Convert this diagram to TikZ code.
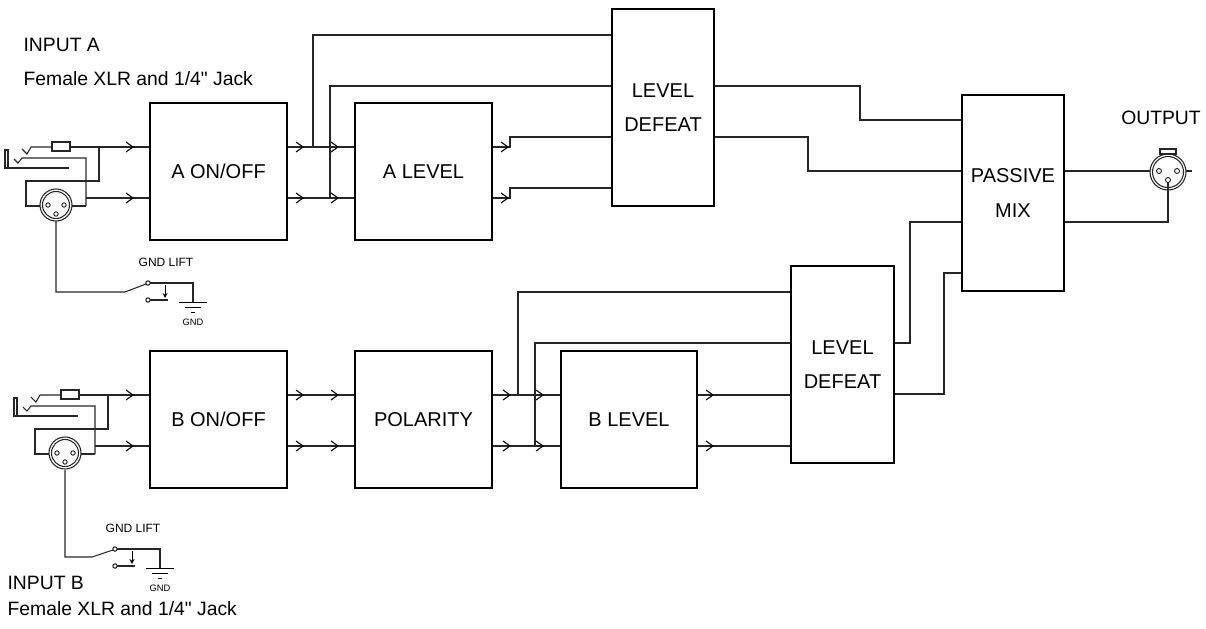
\documentclass[tikz,border=0pt]{standalone}
\usepackage{fontspec}
\setmainfont{Liberation Sans}
\begin{document}
\begin{tikzpicture}[x=0.75pt,y=-0.75pt,line width=0.9pt,
  box/.style={draw,font=\fontsize{15}{18}\selectfont,align=center,inner sep=0pt},
  lbl/.style={font=\fontsize{14.5}{17}\selectfont,anchor=west,inner sep=0pt},
  small/.style={font=\fontsize{9}{11}\selectfont,inner sep=0pt},
  wire/.style={line width=0.8pt,color=black!85},
  chev/.pic={\draw[line width=0.8pt] (-4,-5)--(3,0)--(-4,5);}]
\useasboundingbox (0,0) rectangle (1206,628);
% boxes
\node[box,minimum width=102.75pt,minimum height=102.75pt] (aon) at (218.5,171.5) {A ON/OFF};
\node[box,minimum width=102.75pt,minimum height=102.75pt] (alev) at (423.5,171.5) {A LEVEL};
\node[box,minimum width=76.5pt,minimum height=147.75pt] (lda) at (663,107.5) {LEVEL\\[8pt]DEFEAT};
\node[box,minimum width=76.5pt,minimum height=147pt] (mix) at (1013,193) {PASSIVE\\[8pt]MIX};
\node[box,minimum width=102.75pt,minimum height=102.75pt] (bon) at (218.5,419.5) {B ON/OFF};
\node[box,minimum width=102.75pt,minimum height=102.75pt] (pol) at (423.5,419.5) {POLARITY};
\node[box,minimum width=102pt,minimum height=102.75pt] (blev) at (629,419.5) {B LEVEL};
\node[box,minimum width=77.25pt,minimum height=147.75pt] (ldb) at (842.5,364.5) {LEVEL\\[8pt]DEFEAT};
% labels
\node[lbl] (ia) at (23,45) {INPUT A};
\node[lbl] (ia2) at (23,79) {Female XLR and 1/4\textquotedbl{} Jack};
\node[lbl] (ib) at (7,583) {INPUT B};
\node[lbl] (ib2) at (7,609) {Female XLR and 1/4\textquotedbl{} Jack};
\node[lbl,anchor=center] (out) at (1161,118) {OUTPUT};
% input connectors
\foreach \dx/\dy in {0/0,9/248}{
\begin{scope}[shift={(\dx*0.75pt,-\dy*0.75pt)}]
\draw[wire] (52,142) rectangle (70,151);
\draw[wire] (5,150) rectangle (8,168);
\draw[wire] (8,168)--(69,168);
\draw[wire] (22,149)--(27,154)--(31,147)--(52,147);
\draw[wire] (14,159)--(18,163)--(22,158)--(86,158)--(86,206);
\draw[wire] (56,205) circle[radius=16];
\draw[wire] (56,205) circle[radius=13.5];
\foreach \p in {(48,205),(64,205),(56,214)} \draw[line width=0.6pt] \p circle[radius=2.2];
\draw[wire] (99,147)--(99,181)--(26,181)--(26,206)--(40,206);
\draw[wire] (72,206)--(86,206);
\end{scope}}
% gnd lift A and B
\draw[wire] (56,221)--(56,292)--(125,292)--(146,284);
\draw[wire] (65,470)--(65,557)--(92,557)--(113,550);
\foreach \cx/\cy in {148/283,115/549}{
\begin{scope}[shift={(\cx*0.75pt,-\cy*0.75pt)}]
\draw[line width=0.7pt] (0,0) circle[radius=2.2] (0,17) circle[radius=2.2];
\draw[wire] (2,0)--(45,0)--(45,19);
\draw[wire] (2,17)--(20,17);
\draw[line width=0.7pt,->,>=stealth] (17,2)--(17,15);
\draw[line width=0.7pt] (31,19)--(59,19) (37,24)--(53,24) (43,29)--(47,29);
\node[small,font=\fontsize{7}{9}\selectfont] (g\cx) at (45,39) {GND};
\node[small] (gl\cx) at (18,-21) {GND LIFT};
\end{scope}}
% A wiring
\draw[wire] (70,147)--(aon.west|-0,147); \pic at (130,147) {chev};
\draw[wire] (86,198)--(aon.west|-0,198); \pic at (130,198) {chev};
\draw[wire] (aon.east|-0,147)--(alev.west|-0,147); \pic at (300,147) {chev}; \pic at (335,147) {chev};
\draw[wire] (aon.east|-0,198)--(alev.west|-0,198); \pic at (300,198) {chev}; \pic at (335,198) {chev};
\draw[wire] (313,147)--(313,35)--(lda.west|-0,35);
\draw[wire] (330,198)--(330,86)--(lda.west|-0,86);
\draw[wire] (alev.east|-0,147)--(510,147)--(510,137)--(lda.west|-0,137); \pic at (505,147) {chev};
\draw[wire] (alev.east|-0,198)--(510,198)--(510,188)--(lda.west|-0,188); \pic at (505,198) {chev};
\draw[wire] (lda.east|-0,86)--(860,86)--(860,120)--(mix.west|-0,120);
\draw[wire] (lda.east|-0,137)--(808,137)--(808,171)--(mix.west|-0,171);
% output
\draw[wire] (mix.east|-0,171)--(1192,171);
\draw[wire] (mix.east|-0,222)--(1168,222)--(1168,181);
\draw[wire,fill=white] (1168,172) circle[radius=18];
\draw[wire] (1168,172) circle[radius=15.5];
\draw[wire] (1160,149) rectangle (1176,154);
\foreach \p in {(1159,171),(1177,171),(1168,180)} \draw[line width=0.6pt,fill=white] \p circle[radius=2.5];
\draw[wire] (1168,182.5)--(1168,190);
\draw[wire] (1186,171)--(1192,171);
\draw[wire] (ldb.east|-0,343)--(910,343)--(910,222)--(mix.west|-0,222);
\draw[wire] (ldb.east|-0,394)--(944,394)--(944,273)--(mix.west|-0,273);
% B wiring
\draw[wire] (79,395)--(bon.west|-0,395); \pic at (130,395) {chev};
\draw[wire] (95,446)--(bon.west|-0,446); \pic at (130,446) {chev};
\draw[wire] (bon.east|-0,395)--(pol.west|-0,395); \pic at (300,395) {chev}; \pic at (335,395) {chev};
\draw[wire] (bon.east|-0,446)--(pol.west|-0,446); \pic at (300,446) {chev}; \pic at (335,446) {chev};
\draw[wire] (pol.east|-0,395)--(blev.west|-0,395); \pic at (507,395) {chev}; \pic at (540,395) {chev};
\draw[wire] (pol.east|-0,446)--(blev.west|-0,446); \pic at (507,446) {chev}; \pic at (540,446) {chev};
\draw[wire] (518,395)--(518,292)--(ldb.west|-0,292);
\draw[wire] (535,446)--(535,343)--(ldb.west|-0,343);
\draw[wire] (blev.east|-0,395)--(ldb.west|-0,395); \pic at (710,395) {chev};
\draw[wire] (blev.east|-0,446)--(ldb.west|-0,446); \pic at (710,446) {chev};
\end{tikzpicture}
\end{document}
